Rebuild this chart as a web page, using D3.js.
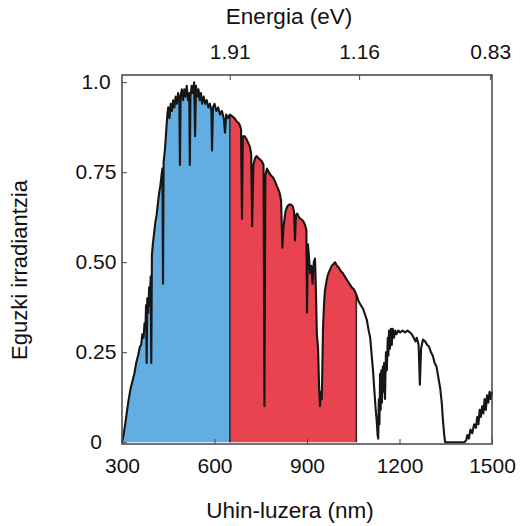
<!DOCTYPE html>
<html>
<head>
<meta charset="utf-8">
<script src="https://cdn.jsdelivr.net/npm/d3@7"></script>
<style>
  body { margin: 0; background: #fff; }
  svg text { font-family: "Liberation Sans", Arial, sans-serif; fill: #111; }
</style>
</head>
<body>
<script>
  // spectrum (wavelength in nm, normalised irradiance)
  var wavelength = [300,305,312,320,328,334,340,346,352,358,362,366,370,373,376,378,380,382,385,388,390,393,395,397,
    400,404,408,412,416,420,424,428,431,433,435,439,443,447,450,454,458,462,466,470,474,478,482,486,488,490,494,498,
    502,506,510,514,518,520,522,526,530,534,537,540,544,548,552,556,560,565,570,575,580,585,590,592,595,600,606,612,
    618,624,630,634,638,644,650,658,665,673,680,686,689,692,698,705,710,715,719,722,726,732,737,741,748,754,759,762,
    765,770,776,784,790,796,803,808,812,816,820,824,830,836,842,848,854,858,861,864,868,874,880,887,893,898,900,903,
    906,910,914,918,922,926,929,932,936,939,942,945,948,950,952,955,958,962,966,970,975,980,986,991,997,1003,1010,
    1016,1023,1030,1038,1045,1052,1060,1068,1075,1082,1088,1094,1100,1105,1110,1114,1118,1122,1126,1129,1131,1133,
    1135,1137,1139,1141,1143,1146,1148,1150,1153,1156,1159,1162,1164,1166,1169,1172,1175,1178,1182,1186,1190,1196,
    1202,1210,1218,1226,1234,1240,1246,1252,1256,1262,1266,1270,1276,1283,1290,1296,1302,1308,1314,1320,1326,1332,
    1337,1341,1345,1348,1410,1416,1420,1425,1430,1436,1442,1448,1452,1456,1460,1464,1468,1472,1476,1480,1484,1488,
    1492,1496,1500];
  var irradiance = [0,0.02,0.06,0.11,0.15,0.17,0.19,0.22,0.24,0.265,0.27,0.30,0.29,0.33,0.32,0.38,0.22,0.40,0.36,0.43,0.38,0.46,0.22,0.52,
    0.55,0.58,0.61,0.63,0.66,0.69,0.71,0.74,0.76,0.44,0.78,0.81,0.86,0.91,0.93,0.90,0.94,0.92,0.95,0.93,0.96,0.94,0.97,0.95,0.77,0.96,0.98,0.95,
    0.98,0.96,0.99,0.95,0.97,0.77,0.96,0.99,0.97,1.00,0.85,0.99,0.96,0.98,0.95,0.97,0.94,0.96,0.94,0.95,0.93,0.94,0.92,0.81,0.93,0.94,0.92,0.93,
    0.91,0.92,0.90,0.86,0.91,0.90,0.91,0.905,0.90,0.89,0.885,0.87,0.62,0.85,0.85,0.84,0.83,0.82,0.80,0.60,0.77,0.79,0.795,0.79,0.785,0.78,0.77,0.10,
    0.74,0.76,0.75,0.74,0.735,0.725,0.71,0.70,0.69,0.67,0.54,0.60,0.64,0.655,0.66,0.66,0.655,0.64,0.56,0.63,0.635,0.625,0.62,0.615,0.605,0.59,0.36,0.55,
    0.52,0.47,0.49,0.44,0.50,0.51,0.42,0.30,0.26,0.16,0.10,0.14,0.12,0.22,0.32,0.38,0.42,0.44,0.46,0.47,0.48,0.49,0.495,0.50,0.49,0.485,0.475,
    0.47,0.46,0.45,0.44,0.43,0.425,0.41,0.39,0.38,0.37,0.355,0.34,0.31,0.29,0.24,0.20,0.15,0.10,0.06,0.02,0.01,0.12,
    0.05,0.19,0.09,0.20,0.11,0.21,0.14,0.22,0.12,0.25,0.20,0.29,0.24,0.31,0.26,0.315,0.27,0.315,0.29,0.31,0.30,0.31,
    0.305,0.31,0.305,0.31,0.305,0.30,0.29,0.28,0.29,0.27,0.16,0.26,0.285,0.28,0.27,0.265,0.25,0.24,0.22,0.21,0.18,0.15,
    0.11,0.06,0.02,0,0,0.005,0.02,0.01,0.035,0.025,0.05,0.04,0.07,0.05,0.09,0.07,0.10,0.08,0.12,0.09,0.13,0.11,
    0.14,0.12,0.14];

  // coloured bands (nm)
  var blueBand = [300, 650];
  var redBand = [650, 1060];

  var xTicks = [300, 600, 900, 1200, 1500];
  var yTicks = [0, 0.25, 0.5, 0.75, 1];
  var yTickLabels = ['0', '0.25', '0.50', '0.75', '1.0'];
  var energyTicks = [1.91, 1.16, 0.83];

  var data = wavelength.map(function(w, i){ return {w: w, v: irradiance[i]}; });

  var svg = d3.select('body').append('svg')
    .attr('width', 523)
    .attr('height', 526);

  var x = d3.scaleLinear().domain([300, 1500]).range([122, 492]);
  var y = d3.scaleLinear().domain([-0.005, 1.02]).range([444, 75]);

  var area = d3.area()
    .x(function(d){ return x(d.w); })
    .y0(y(0))
    .y1(function(d){ return y(d.v); });

  var line = d3.line()
    .x(function(d){ return x(d.w); })
    .y(function(d){ return y(d.v); });

  // clip rects for the two bands
  var defs = svg.append('defs');
  [['clipBlue', blueBand], ['clipRed', redBand]].forEach(function(c){
    defs.append('clipPath').attr('id', c[0])
      .append('rect')
      .attr('x', x(c[1][0]))
      .attr('y', y(1.02))
      .attr('width', x(c[1][1]) - x(c[1][0]))
      .attr('height', y(-0.005) - y(1.02));
  });

  svg.append('path').datum(data)
    .attr('d', area)
    .attr('fill', '#62ade2')
    .attr('clip-path', 'url(#clipBlue)');

  svg.append('path').datum(data)
    .attr('d', area)
    .attr('fill', '#e8434e')
    .attr('clip-path', 'url(#clipRed)');

  // band edges
  [blueBand[1], redBand[1]].forEach(function(w){
    var p = data.find(function(d){ return d.w === w; });
    svg.append('line')
      .attr('x1', x(w)).attr('x2', x(w))
      .attr('y1', y(0)).attr('y2', y(p.v))
      .attr('stroke', '#2a2a2a')
      .attr('stroke-width', 1.6);
  });

  svg.append('path').datum(data)
    .attr('d', line)
    .attr('fill', 'none')
    .attr('stroke', '#161616')
    .attr('stroke-width', 2.1)
    .attr('stroke-linejoin', 'round');

  // frame
  svg.append('rect')
    .attr('x', 122).attr('y', 75)
    .attr('width', 370).attr('height', 369)
    .attr('fill', 'none')
    .attr('stroke', '#444')
    .attr('stroke-width', 1.5);

  // axes
  var bottomAxis = svg.append('g')
    .attr('transform', 'translate(0,444)')
    .call(d3.axisBottom(x).tickValues(xTicks).tickSizeInner(-5).tickSizeOuter(0).tickPadding(14)
      .tickFormat(d3.format('d')));

  var leftAxis = svg.append('g')
    .attr('transform', 'translate(122,0)')
    .call(d3.axisLeft(y).tickValues(yTicks).tickSizeInner(-5).tickSizeOuter(0)
      .tickFormat(function(d, i){ return yTickLabels[i]; }));
  leftAxis.selectAll('text')
    .attr('x', -26)
    .attr('text-anchor', 'middle');

  var topAxis = svg.append('g')
    .attr('transform', 'translate(0,75)')
    .call(d3.axisTop(x)
      .tickValues(energyTicks.map(function(e){ return 1240 / e; }))
      .tickSizeInner(-5).tickSizeOuter(0).tickPadding(16)
      .tickFormat(function(d, i){ return energyTicks[i].toFixed(2); }));

  [bottomAxis, leftAxis, topAxis].forEach(function(g){
    g.select('.domain').remove();
    g.selectAll('line').attr('stroke', '#444');
    g.selectAll('text').style('font-size', '21px').attr('fill', '#111');
  });

  // titles
  svg.append('text')
    .attr('x', 289).attr('y', 24)
    .attr('text-anchor', 'middle')
    .style('font-size', '22.5px')
    .text('Energia (eV)');

  svg.append('text')
    .attr('x', 290).attr('y', 518)
    .attr('text-anchor', 'middle')
    .style('font-size', '22.5px')
    .text('Uhin-luzera (nm)');

  svg.append('text')
    .attr('transform', 'translate(27,270) rotate(-90)')
    .attr('text-anchor', 'middle')
    .style('font-size', '22px')
    .text('Eguzki irradiantzia');
</script>
</body>
</html>
